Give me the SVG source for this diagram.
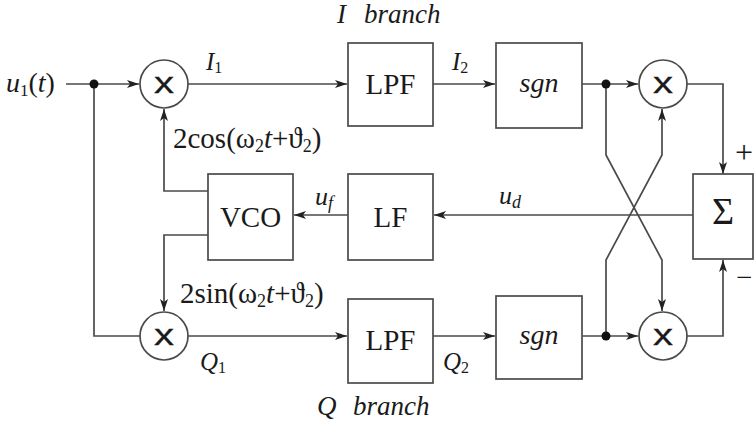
<svg xmlns="http://www.w3.org/2000/svg" width="755" height="425" viewBox="0 0 755 425">
<style>
.ln{fill:none;stroke:#4a4a4a;stroke-width:1.7}
.bx{fill:#fff;stroke:#4a4a4a;stroke-width:1.7}
.t{font-family:"Liberation Serif",serif;fill:#1a1a1a}
.i{font-style:italic}
.x{font-family:"Liberation Sans",sans-serif;font-size:29px;fill:#1a1a1a;stroke:#1a1a1a;stroke-width:0.3}
.c{text-anchor:middle}
</style>
<defs>
<marker id="a" viewBox="0 0 12 8" refX="12" refY="4" markerWidth="12" markerHeight="8" markerUnits="userSpaceOnUse" orient="auto">
<path d="M0,0 L12,4 L0,8 L3,4 Z" fill="#222"/>
</marker>
</defs>
<rect width="755" height="425" fill="#fff"/>
<g id="connectors">
<line class="ln" x1="66" y1="84" x2="139" y2="84" marker-end="url(#a)"/>
<polyline class="ln" points="94,84 94,336 141,336"/>
<line class="ln" x1="188" y1="84" x2="347" y2="84" marker-end="url(#a)"/>
<line class="ln" x1="433" y1="84" x2="495" y2="84" marker-end="url(#a)"/>
<line class="ln" x1="582" y1="84" x2="638" y2="84" marker-end="url(#a)"/>
<polyline class="ln" points="687,84 723,84 723,174" marker-end="url(#a)"/>
<line class="ln" x1="188" y1="336" x2="347" y2="336" marker-end="url(#a)"/>
<line class="ln" x1="433" y1="336" x2="495" y2="336" marker-end="url(#a)"/>
<line class="ln" x1="582" y1="336" x2="638" y2="336" marker-end="url(#a)"/>
<polyline class="ln" points="687,336 723,336 723,260" marker-end="url(#a)"/>
<polyline class="ln" points="606,84 606,155 662,260 662,311" marker-end="url(#a)"/>
<polyline class="ln" points="606,336 606,260 662,155 662,109" marker-end="url(#a)"/>
<line class="ln" x1="693" y1="215" x2="434" y2="215" marker-end="url(#a)"/>
<line class="ln" x1="348" y1="215" x2="294" y2="215" marker-end="url(#a)"/>
<polyline class="ln" points="208,191 164,191 164,109" marker-end="url(#a)"/>
<polyline class="ln" points="208,235 164,235 164,311" marker-end="url(#a)"/>
<circle cx="94" cy="84" r="4.5" fill="#111"/>
<circle cx="606" cy="84" r="4.5" fill="#111"/>
<circle cx="606" cy="336" r="4.5" fill="#111"/>
</g>
<g id="mul1"><circle class="bx" cx="164" cy="84" r="24"/><text class="x" x="154" y="93" textLength="20" lengthAdjust="spacingAndGlyphs">x</text></g>
<g id="mul2"><circle class="bx" cx="164" cy="336" r="24"/><text class="x" x="154" y="345" textLength="20" lengthAdjust="spacingAndGlyphs">x</text></g>
<g id="mul3"><circle class="bx" cx="663" cy="84" r="24"/><text class="x" x="653" y="93" textLength="20" lengthAdjust="spacingAndGlyphs">x</text></g>
<g id="mul4"><circle class="bx" cx="663" cy="336" r="24"/><text class="x" x="653" y="345" textLength="20" lengthAdjust="spacingAndGlyphs">x</text></g>
<g id="lpf1"><rect class="bx" x="348" y="43" width="85" height="83"/><text class="t c" x="390.5" y="94" font-size="29">LPF</text></g>
<g id="lpf2"><rect class="bx" x="348" y="299" width="85" height="84"/><text class="t c" x="390.5" y="350" font-size="29">LPF</text></g>
<g id="sgn1"><rect class="bx" x="496" y="43" width="86" height="85"/><text class="t i c" x="539" y="92" font-size="28">sgn</text></g>
<g id="sgn2"><rect class="bx" x="496" y="296" width="86" height="83"/><text class="t i c" x="539" y="344" font-size="28">sgn</text></g>
<g id="vco"><rect class="bx" x="208" y="174" width="85" height="86"/><text class="t c" x="250.5" y="227" font-size="29">VCO</text></g>
<g id="lf"><rect class="bx" x="348" y="174" width="85" height="86"/><text class="t c" x="390.5" y="227" font-size="29">LF</text></g>
<g id="sum"><rect class="bx" x="693" y="174" width="60" height="85"/><text class="t c" x="723" y="224" font-size="38">Σ</text></g>
<g id="labels" class="t">
<text x="6" y="92" font-size="28"><tspan class="i">u</tspan><tspan font-size="17" dy="4">1</tspan><tspan dy="-4">(</tspan><tspan class="i">t</tspan>)</text>
<text x="337" y="23" font-size="27" class="i">I</text>
<text x="364" y="23" font-size="27" class="i">branch</text>
<text x="317" y="415" font-size="27" class="i">Q</text>
<text x="353" y="415" font-size="27" class="i">branch</text>
<text x="206" y="70" font-size="25"><tspan class="i">I</tspan><tspan font-size="16" dy="3">1</tspan></text>
<text x="452" y="70" font-size="25"><tspan class="i">I</tspan><tspan font-size="16" dy="3">2</tspan></text>
<text x="200" y="370" font-size="25"><tspan class="i">Q</tspan><tspan font-size="16" dy="3">1</tspan></text>
<text x="443" y="370" font-size="25"><tspan class="i">Q</tspan><tspan font-size="16" dy="3">2</tspan></text>
<text x="315" y="205" font-size="26"><tspan class="i">u</tspan><tspan font-size="18" dy="4" class="i">f</tspan></text>
<text x="499" y="204" font-size="26"><tspan class="i">u</tspan><tspan font-size="18" dy="4" class="i">d</tspan></text>
<text x="173" y="148" font-size="29">2cos(ω<tspan font-size="18" dy="4">2</tspan><tspan class="i" dy="-4">t</tspan>+ϑ<tspan font-size="18" dy="4">2</tspan><tspan dy="-4">)</tspan></text>
<text x="180" y="303" font-size="29">2sin(ω<tspan font-size="18" dy="4">2</tspan><tspan class="i" dy="-4">t</tspan>+ϑ<tspan font-size="18" dy="4">2</tspan><tspan dy="-4">)</tspan></text>
<text x="735" y="163" font-size="32">+</text>
<text x="736" y="287" font-size="29">−</text>
</g>
</svg>
